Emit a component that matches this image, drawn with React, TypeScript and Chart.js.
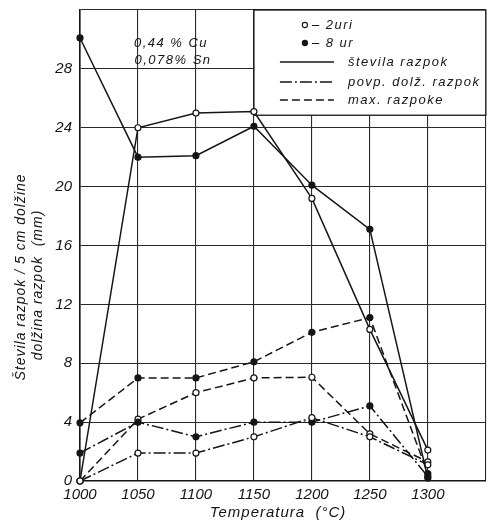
import React, { useEffect, useRef } from 'react';
import { Chart, registerables } from 'chart.js';

Chart.register(...registerables);

// ---- data ----
const temperatures = [1000, 1050, 1100, 1150, 1200, 1250, 1300];
const stevilo2 = [0, 24, 25, 25.1, 19.2, 10.3, 2.1];
const stevilo8 = [30.1, 22, 22.1, 24.1, 20.1, 17.1, 0.2];
const povp2 = [0, 1.9, 1.9, 3, 4.3, 3, 1.1];
const povp8 = [1.9, 4, 3, 4, 4, 5.1, 0.3];
const max2 = [0, 4.2, 6.0, 7, 7.05, 3.2, 1.3];
const max8 = [3.95, 7, 7, 8.1, 10.1, 11.1, 0.5];

const xTickValues = [1000, 1050, 1100, 1150, 1200, 1250, 1300, 1350];
const xTickLabels = ['1000', '1050', '1100', '1150', '1200', '1250', '1300', ''];
const yTickValues = [0, 4, 8, 12, 16, 20, 24, 28, 32];
const yTickLabels = ['0', '4', '8', '12', '16', '20', '24', '28', ''];

const yTitleLines = ['Števila razpok / 5 cm dolžine', 'dolžina razpok  (mm)'];
const xTitle = 'Temperatura  (°C)';
const noteLines = ['0,44 % Cu', '0,078% Sn'];
const markerLabels = ['– 2uri', '– 8 ur'];
const lineLabels = ['števila razpok', 'povp. dolž. razpok', 'max. razpoke'];

const SOLID: number[] = [];
const DASHDOT = [12, 3, 2, 3];
const DASHED = [8, 4];
const INK = '#151515';
const FONT = '"Liberation Sans", Arial, sans-serif';

function mk(label: string, values: number[], dash: number[], filled: boolean) {
  return {
    label,
    data: temperatures.map((t, i) => ({ x: t, y: values[i] })),
    borderColor: INK,
    borderWidth: 1.5,
    borderDash: dash,
    pointRadius: 3,
    pointBorderWidth: 1.2,
    pointBackgroundColor: filled ? INK : '#ffffff',
    pointBorderColor: INK,
    tension: 0,
    fill: false,
    clip: false as any,
  };
}

const decor = {
  id: 'decor',
  beforeDatasetsDraw(chart: any) {
    const { ctx, chartArea, scales } = chart;
    const x1 = scales.x.getPixelForValue(1150);
    const x2 = chartArea.right;
    const y1 = chartArea.top;
    const y2 = scales.y.getPixelForValue(24.85);
    ctx.save();
    ctx.fillStyle = '#ffffff';
    ctx.fillRect(x1, y1, x2 - x1, y2 - y1);
    ctx.strokeStyle = INK;
    ctx.lineWidth = 1.3;
    ctx.strokeRect(x1, y1, x2 - x1, y2 - y1);

    ctx.font = `italic 13px ${FONT}`;
    (ctx as any).letterSpacing = '1.5px';
    ctx.fillStyle = INK;
    ctx.textBaseline = 'middle';
    ctx.textAlign = 'left';
    const rowsY = [y1 + 15, y1 + 33];
    rowsY.forEach((ry, i) => {
      ctx.beginPath();
      ctx.arc(x1 + 51, ry, 2.6, 0, Math.PI * 2);
      ctx.fillStyle = i === 0 ? '#fff' : INK;
      ctx.fill();
      ctx.lineWidth = 1.1;
      ctx.strokeStyle = INK;
      ctx.stroke();
      ctx.fillStyle = INK;
      ctx.fillText(markerLabels[i], x1 + 58, ry);
    });
    const dashes = [SOLID, DASHDOT, DASHED];
    const lineY = [y1 + 52, y1 + 72, y1 + 90];
    lineY.forEach((ly, i) => {
      ctx.beginPath();
      ctx.setLineDash(dashes[i]);
      ctx.lineWidth = 1.5;
      ctx.moveTo(x1 + 26, ly);
      ctx.lineTo(x1 + 80, ly);
      ctx.stroke();
      ctx.setLineDash([]);
      ctx.fillText(lineLabels[i], x1 + 94, ly);
    });
    ctx.restore();
  },
  afterDraw(chart: any) {
    const { ctx } = chart;
    ctx.save();
    ctx.fillStyle = INK;
    ctx.textAlign = 'center';
    ctx.textBaseline = 'middle';
    (ctx as any).letterSpacing = '1.5px';
    ctx.font = `italic 13px ${FONT}`;
    ctx.fillText(noteLines[0], 171, 43);
    ctx.fillText(noteLines[1], 173, 60);

    (ctx as any).letterSpacing = '1px';
    ctx.font = `italic 15px ${FONT}`;
    ctx.fillText(xTitle, 278, 513);

    ctx.font = `italic 14px ${FONT}`;
    ctx.save();
    ctx.translate(21, 277);
    ctx.rotate(-Math.PI / 2);
    ctx.fillText(yTitleLines[0], 0, 0);
    ctx.restore();
    ctx.save();
    ctx.translate(38, 285);
    ctx.rotate(-Math.PI / 2);
    ctx.fillText(yTitleLines[1], 0, 0);
    ctx.restore();
    ctx.restore();
  },
};

export default function App() {
  const ref = useRef<HTMLCanvasElement | null>(null);
  useEffect(() => {
    if (!ref.current) return;
    const tickFont = { family: FONT, size: 15, style: 'italic' as const };
    const chart = new Chart(ref.current, {
      type: 'line',
      data: {
        datasets: [
          mk('števila razpok – 2 uri', stevilo2, SOLID, false),
          mk('števila razpok – 8 ur', stevilo8, SOLID, true),
          mk('povp. dolž. razpok – 2 uri', povp2, DASHDOT, false),
          mk('povp. dolž. razpok – 8 ur', povp8, DASHDOT, true),
          mk('max. razpoke – 2 uri', max2, DASHED, false),
          mk('max. razpoke – 8 ur', max8, DASHED, true),
        ] as any,
      },
      options: {
        animation: false,
        responsive: false,
        layout: { padding: { top: 10, right: 5, left: 0, bottom: 0 } },
        plugins: { legend: { display: false }, tooltip: { enabled: false } },
        scales: {
          x: {
            type: 'linear',
            min: 1000,
            max: 1350,
            afterBuildTicks: (s: any) => {
              s.ticks = xTickValues.map((v) => ({ value: v }));
            },
            afterFit: (s: any) => {
              s.height = 43;
              s.paddingLeft = 0;
              s.paddingRight = 0;
            },
            ticks: {
              autoSkip: false,
              maxRotation: 0,
              padding: 5,
              color: INK,
              font: tickFont,
              callback: (v: any) => xTickLabels[xTickValues.indexOf(Number(v))] ?? '',
            },
            grid: { color: '#2a2a2a', lineWidth: 1.1, drawTicks: false },
            border: { color: INK, width: 1.6 },
          },
          y: {
            type: 'linear',
            min: 0,
            max: 32,
            afterBuildTicks: (s: any) => {
              s.ticks = yTickValues.map((v) => ({ value: v }));
            },
            afterFit: (s: any) => {
              s.width = 80;
              s.paddingTop = 0;
              s.paddingBottom = 0;
            },
            ticks: {
              autoSkip: false,
              padding: 8,
              color: INK,
              font: tickFont,
              callback: (v: any) => yTickLabels[yTickValues.indexOf(Number(v))] ?? '',
            },
            grid: { color: '#2a2a2a', lineWidth: 1.1, drawTicks: false },
            border: { color: INK, width: 1.6 },
          },
        },
      } as any,
      plugins: [decor],
    });
    return () => chart.destroy();
  }, []);
  return (
    <div style={{ position: 'fixed', left: 0, top: 0, width: 491, height: 524, background: '#fff' }}>
      <canvas ref={ref} width={491} height={524} />
    </div>
  );
}
